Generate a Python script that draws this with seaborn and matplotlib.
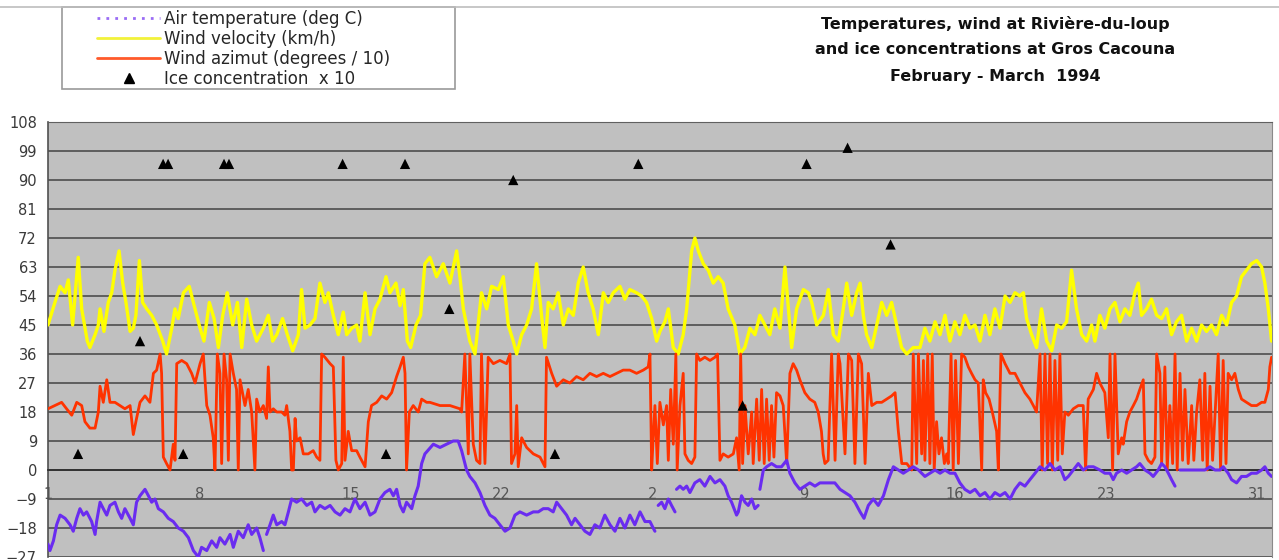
import numpy as np
import pandas as pd
import matplotlib
matplotlib.use("Agg")
import matplotlib.pyplot as plt
from matplotlib.lines import Line2D
from matplotlib.patches import Rectangle
from matplotlib.ticker import MultipleLocator, FixedLocator, FixedFormatter
import seaborn as sns

# Time axis: days elapsed since 1 February 1994 (observation index).
# Wind velocity (km/h)
wind_velocity = [
    (0.00, 45), (0.32, 52), (0.56, 57), (0.79, 55), (0.94, 59), (1.14, 45), (1.40, 66), (1.56, 50),
    (1.82, 40), (1.94, 38), (2.18, 42), (2.33, 45), (2.41, 50), (2.59, 43), (2.79, 52), (2.95, 55),
    (3.10, 62), (3.29, 68), (3.46, 58), (3.61, 52), (3.80, 43), (3.95, 44), (4.07, 48), (4.23, 65),
    (4.38, 52), (4.57, 50), (4.80, 48), (5.03, 45), (5.31, 40), (5.49, 36), (5.73, 44), (5.88, 50),
    (6.03, 47), (6.27, 55), (6.54, 57), (6.73, 52), (7.04, 44), (7.22, 40), (7.47, 52), (7.69, 47),
    (7.89, 38), (8.09, 48), (8.30, 55), (8.55, 45), (8.77, 52), (8.97, 38), (9.20, 53), (9.43, 45),
    (9.66, 40), (9.97, 44), (10.20, 48), (10.40, 40), (10.59, 42), (10.86, 47), (11.08, 42), (11.33, 37),
    (11.59, 42), (11.74, 56), (11.90, 44), (12.13, 45), (12.36, 47), (12.59, 58), (12.82, 52), (12.98, 55),
    (13.21, 48), (13.44, 42), (13.67, 49), (13.83, 42), (14.06, 44), (14.29, 45), (14.44, 40), (14.68, 55),
    (14.91, 42), (15.14, 50), (15.37, 53), (15.65, 60), (15.83, 55), (16.11, 58), (16.30, 51), (16.45, 56),
    (16.64, 40), (16.79, 38), (17.04, 45), (17.25, 48), (17.45, 64), (17.68, 66), (17.99, 60), (18.30, 64),
    (18.61, 58), (18.92, 68), (19.07, 60), (19.23, 50), (19.53, 40), (19.77, 36), (20.07, 55), (20.31, 50),
    (20.54, 57), (20.85, 56), (21.08, 60), (21.31, 45), (21.54, 40), (21.70, 36), (21.93, 42), (22.16, 45),
    (22.39, 50), (22.62, 64), (22.85, 48), (23.01, 38), (23.16, 52), (23.39, 50), (23.62, 55), (23.86, 45),
    (24.09, 50), (24.32, 48), (24.55, 58), (24.78, 63), (25.01, 55), (25.24, 50), (25.48, 42), (25.71, 55),
    (25.94, 52), (26.17, 55), (26.48, 57), (26.71, 53), (26.94, 56), (27.25, 55), (27.48, 54), (27.71, 52),
    (27.95, 47), (28.18, 40), (28.33, 43), (28.56, 46), (28.72, 50), (28.95, 38), (29.18, 36), (29.41, 42),
    (29.57, 50), (29.80, 68), (29.95, 72), (30.11, 68), (30.34, 64), (30.57, 62), (30.80, 58), (31.03, 60),
    (31.26, 58), (31.49, 50), (31.80, 45), (32.03, 36), (32.26, 38), (32.50, 44), (32.73, 42), (32.96, 48),
    (33.19, 45), (33.42, 42), (33.65, 50), (33.89, 44), (34.12, 63), (34.43, 38), (34.66, 50), (34.97, 56),
    (35.20, 55), (35.36, 52), (35.59, 45), (35.90, 48), (36.13, 56), (36.36, 42), (36.59, 40), (36.82, 50),
    (36.98, 58), (37.21, 48), (37.44, 55), (37.60, 58), (37.75, 48), (37.90, 42), (38.14, 38), (38.37, 45),
    (38.60, 52), (38.83, 48), (39.06, 52), (39.29, 45), (39.52, 38), (39.76, 36), (40.06, 38), (40.37, 38),
    (40.60, 44), (40.83, 40), (41.07, 46), (41.30, 42), (41.53, 48), (41.76, 40), (41.99, 46), (42.22, 42),
    (42.45, 48), (42.69, 44), (42.92, 45), (43.15, 40), (43.38, 48), (43.61, 42), (43.84, 50), (44.08, 44),
    (44.31, 54), (44.54, 52), (44.77, 55), (45.00, 54), (45.16, 55), (45.31, 47), (45.54, 42), (45.77, 38),
    (46.00, 50), (46.24, 40), (46.47, 37), (46.70, 45), (46.93, 44), (47.16, 46), (47.39, 62), (47.62, 50),
    (47.86, 42), (48.09, 40), (48.32, 45), (48.47, 40), (48.70, 48), (48.93, 44), (49.17, 50), (49.40, 52),
    (49.63, 46), (49.86, 50), (50.09, 48), (50.32, 55), (50.48, 58), (50.63, 48), (50.86, 50), (51.09, 53),
    (51.33, 48), (51.56, 47), (51.79, 50), (52.02, 42), (52.25, 46), (52.48, 48), (52.72, 40), (52.95, 44),
    (53.18, 40), (53.41, 45), (53.64, 43), (53.87, 45), (54.10, 42), (54.34, 48), (54.57, 45), (54.80, 52),
    (55.03, 54), (55.26, 60), (55.49, 62), (55.72, 64), (55.96, 65), (56.19, 63), (56.34, 58), (56.50, 50),
    (56.65, 40),
]

# Wind azimuth (degrees / 10)
wind_azimuth = [
    (0.00, 19), (0.32, 20), (0.63, 21), (0.86, 19), (1.10, 17), (1.33, 21), (1.56, 20), (1.71, 15),
    (1.94, 13), (2.18, 13), (2.33, 18), (2.41, 26), (2.56, 21), (2.72, 28), (2.87, 21), (3.10, 21),
    (3.33, 20), (3.56, 19), (3.80, 20), (3.95, 11), (4.10, 16), (4.26, 21), (4.49, 23), (4.72, 21),
    (4.88, 30), (5.03, 31), (5.19, 36), (5.26, 30), (5.34, 4), (5.49, 2), (5.65, 0), (5.80, 8),
    (5.88, 3), (5.96, 33), (6.19, 34), (6.42, 33), (6.65, 30), (6.81, 27), (7.04, 33), (7.19, 36),
    (7.35, 20), (7.50, 17), (7.65, 10), (7.73, 0), (7.84, 36), (7.96, 30), (8.04, 2), (8.15, 36),
    (8.27, 28), (8.35, 3), (8.43, 36), (8.58, 30), (8.73, 25), (8.81, 0), (8.89, 28), (9.12, 20),
    (9.27, 25), (9.43, 18), (9.58, 0), (9.66, 22), (9.81, 18), (9.97, 20), (10.12, 16), (10.20, 32),
    (10.28, 18), (10.43, 19), (10.59, 18), (10.82, 18), (10.97, 17), (11.05, 20), (11.20, 12), (11.28, 0),
    (11.36, 0), (11.44, 16), (11.51, 9), (11.67, 10), (11.82, 5), (12.05, 5), (12.28, 6), (12.44, 4),
    (12.59, 3), (12.67, 36), (12.82, 35), (13.06, 33), (13.21, 32), (13.33, 3), (13.44, 0), (13.60, 2),
    (13.67, 35), (13.75, 3), (13.90, 12), (14.06, 6), (14.29, 6), (14.44, 4), (14.68, 1), (14.83, 15),
    (14.98, 20), (15.22, 21), (15.45, 23), (15.68, 22), (15.91, 24), (16.14, 29), (16.30, 32), (16.45, 35),
    (16.53, 30), (16.60, 0), (16.73, 18), (16.91, 20), (17.14, 18), (17.30, 22), (17.53, 21), (17.68, 21),
    (18.15, 20), (18.61, 20), (19.07, 19), (19.15, 18), (19.30, 36), (19.46, 5), (19.53, 36), (19.69, 8),
    (19.84, 3), (20.00, 2), (20.07, 36), (20.23, 2), (20.38, 35), (20.62, 33), (20.92, 34), (21.23, 33),
    (21.39, 36), (21.46, 2), (21.62, 5), (21.70, 20), (21.77, 1), (21.93, 10), (22.16, 7), (22.47, 5),
    (22.78, 4), (23.01, 1), (23.08, 35), (23.32, 30), (23.55, 26), (23.86, 28), (24.16, 27), (24.47, 29),
    (24.78, 28), (25.09, 30), (25.40, 29), (25.71, 30), (26.02, 29), (26.33, 30), (26.63, 31), (26.94, 31),
    (27.25, 30), (27.56, 31), (27.79, 32), (27.87, 36), (27.95, 0), (28.02, 10), (28.10, 20), (28.21, 2),
    (28.33, 21), (28.49, 14), (28.64, 20), (28.72, 3), (28.83, 25), (28.95, 8), (29.07, 36), (29.13, 0),
    (29.26, 20), (29.41, 30), (29.49, 5), (29.64, 3), (29.80, 2), (29.95, 4), (30.03, 36), (30.18, 34),
    (30.41, 35), (30.65, 34), (30.88, 35), (31.00, 36), (31.11, 3), (31.26, 5), (31.49, 4), (31.73, 5),
    (31.88, 10), (32.00, 0), (32.07, 36), (32.16, 2), (32.27, 20), (32.42, 5), (32.58, 18), (32.65, 2),
    (32.81, 22), (32.93, 3), (33.04, 25), (33.16, 2), (33.27, 22), (33.39, 3), (33.50, 20), (33.61, 4),
    (33.73, 24), (33.89, 23), (34.04, 20), (34.20, 2), (34.35, 30), (34.50, 33), (34.66, 31), (34.81, 28),
    (35.04, 24), (35.27, 22), (35.50, 21), (35.66, 18), (35.81, 12), (35.89, 5), (35.97, 2), (36.12, 3),
    (36.28, 36), (36.44, 3), (36.59, 36), (36.67, 33), (36.90, 5), (37.06, 36), (37.21, 34), (37.36, 2),
    (37.52, 36), (37.67, 33), (37.83, 2), (37.98, 30), (38.14, 20), (38.37, 21), (38.60, 21), (38.83, 22),
    (39.06, 23), (39.22, 24), (39.37, 12), (39.53, 2), (39.76, 2), (39.99, 0), (40.06, 36), (40.22, 2),
    (40.30, 36), (40.45, 5), (40.53, 34), (40.60, 3), (40.73, 36), (40.83, 2), (40.94, 36), (41.03, 0),
    (41.14, 15), (41.25, 5), (41.37, 10), (41.50, 2), (41.61, 5), (41.68, 2), (41.81, 36), (41.91, 0),
    (42.02, 34), (42.15, 2), (42.30, 36), (42.45, 35), (42.61, 32), (42.76, 30), (42.92, 28), (43.07, 27),
    (43.23, 0), (43.30, 28), (43.41, 24), (43.57, 22), (43.72, 18), (43.92, 12), (44.00, 0), (44.12, 36),
    (44.31, 33), (44.54, 30), (44.77, 30), (45.00, 27), (45.23, 24), (45.46, 22), (45.62, 20), (45.77, 18),
    (45.93, 36), (46.03, 0), (46.16, 36), (46.28, 2), (46.39, 36), (46.50, 0), (46.62, 34), (46.75, 3),
    (46.85, 36), (46.96, 5), (47.08, 18), (47.24, 17), (47.47, 19), (47.70, 20), (47.93, 20), (48.04, 0),
    (48.16, 22), (48.40, 25), (48.55, 30), (48.70, 27), (48.93, 24), (49.09, 10), (49.17, 36), (49.29, 0),
    (49.40, 36), (49.55, 5), (49.71, 10), (49.78, 8), (49.94, 15), (50.09, 18), (50.25, 20), (50.40, 22),
    (50.55, 25), (50.71, 28), (50.79, 5), (50.94, 3), (51.09, 2), (51.25, 4), (51.33, 36), (51.48, 30),
    (51.56, 2), (51.71, 32), (51.82, 0), (51.94, 20), (52.07, 2), (52.18, 36), (52.28, 0), (52.41, 30),
    (52.53, 3), (52.64, 25), (52.79, 2), (52.95, 20), (53.05, 3), (53.18, 18), (53.33, 28), (53.46, 3),
    (53.56, 30), (53.67, 0), (53.80, 26), (53.92, 3), (54.07, 22), (54.18, 36), (54.29, 0), (54.41, 34),
    (54.54, 2), (54.64, 30), (54.80, 28), (54.95, 30), (55.11, 25), (55.26, 22), (55.49, 21), (55.72, 20),
    (55.96, 20), (56.19, 21), (56.34, 21), (56.50, 25), (56.57, 32), (56.65, 35),
]

# Air temperature (deg C); None marks missing readings
air_temperature = [
    (0.00, -23), (0.09, -25), (0.25, -22), (0.40, -17), (0.56, -14), (0.79, -15), (1.02, -17), (1.17, -19),
    (1.33, -15), (1.48, -12), (1.64, -14), (1.79, -13), (2.02, -16), (2.18, -20), (2.25, -16), (2.41, -10),
    (2.56, -12), (2.72, -14), (2.87, -11), (3.10, -10), (3.26, -13), (3.41, -15), (3.56, -12), (3.80, -15),
    (3.95, -17), (4.10, -10), (4.26, -8), (4.49, -6), (4.65, -8), (4.80, -10), (4.95, -9), (5.11, -12),
    (5.34, -13), (5.57, -15), (5.80, -16), (6.03, -18), (6.27, -19), (6.50, -21), (6.73, -25), (6.96, -27),
    (7.11, -24), (7.35, -25), (7.58, -22), (7.81, -24), (7.96, -21), (8.19, -23), (8.43, -20), (8.58, -24),
    (8.81, -19), (9.04, -21), (9.27, -17), (9.43, -20), (9.66, -18), (9.81, -21), (9.97, -25), (10.05, None),
    (10.12, -20), (10.28, -17), (10.43, -14), (10.59, -17), (10.82, -16), (10.97, -17), (11.13, -13),
    (11.28, -9), (11.51, -10), (11.74, -9), (11.98, -11), (12.21, -10), (12.36, -13), (12.59, -11),
    (12.82, -12), (13.06, -11), (13.29, -13), (13.52, -14), (13.75, -12), (13.98, -13), (14.21, -9),
    (14.44, -12), (14.68, -10), (14.91, -14), (15.14, -13), (15.37, -9), (15.60, -7), (15.83, -6),
    (15.99, -8), (16.14, -6), (16.30, -11), (16.45, -13), (16.60, -10), (16.84, -12), (16.99, -8),
    (17.14, -5), (17.30, 2), (17.45, 5), (17.84, 8), (18.15, 7), (18.45, 8), (18.76, 9), (18.99, 9),
    (19.15, 6), (19.38, 0), (19.53, -2), (19.77, -4), (20.00, -7), (20.23, -11), (20.46, -14), (20.69, -15),
    (20.92, -17), (21.16, -19), (21.39, -18), (21.62, -14), (21.85, -13), (22.16, -14), (22.47, -13),
    (22.70, -13), (22.93, -12), (23.16, -12), (23.39, -13), (23.55, -10), (23.78, -12), (24.01, -14),
    (24.24, -17), (24.40, -15), (24.63, -17), (24.86, -19), (25.09, -20), (25.32, -17), (25.55, -18),
    (25.78, -14), (26.02, -17), (26.25, -19), (26.48, -15), (26.71, -18), (26.94, -14), (27.17, -17),
    (27.41, -13), (27.64, -16), (27.87, -16), (28.02, -18), (28.10, -19), (28.17, None), (28.25, -11),
    (28.41, -10), (28.56, -12), (28.72, -9), (28.87, -11), (29.03, -13), (29.06, None), (29.10, -6),
    (29.26, -5), (29.41, -6), (29.57, -5), (29.72, -7), (29.95, -4), (30.18, -3), (30.41, -5), (30.65, -2),
    (30.88, -4), (31.11, -3), (31.34, -5), (31.49, -8), (31.65, -10), (31.88, -14), (31.96, -13),
    (32.11, -8), (32.27, -10), (32.42, -11), (32.58, -9), (32.73, -12), (32.88, -11), (32.92, None),
    (32.96, -6), (33.12, 0), (33.27, 1), (33.50, 2), (33.73, 1), (33.96, 1), (34.20, 3), (34.35, -1),
    (34.58, -4), (34.81, -6), (35.04, -5), (35.27, -4), (35.51, -5), (35.74, -4), (35.97, -4), (36.20, -4),
    (36.43, -4), (36.67, -6), (36.90, -7), (37.13, -8), (37.36, -10), (37.60, -13), (37.78, -15),
    (37.98, -11), (38.21, -9), (38.44, -11), (38.68, -8), (38.91, -3), (39.14, 1), (39.37, 0), (39.60, -1),
    (39.83, 0), (40.06, 1), (40.30, 0), (40.60, -2), (40.83, -1), (41.07, 0), (41.30, -1), (41.53, 0),
    (41.76, -1), (41.99, -1), (42.22, -4), (42.45, -6), (42.69, -7), (42.92, -6), (43.15, -8), (43.38, -7),
    (43.61, -9), (43.84, -7), (44.08, -8), (44.31, -7), (44.54, -9), (44.77, -6), (45.00, -4), (45.23, -5),
    (45.46, -3), (45.70, -1), (45.93, 1), (46.16, 0), (46.39, 2), (46.62, 0), (46.85, 1), (47.08, -3),
    (47.24, -2), (47.47, 0), (47.70, 2), (47.93, 0), (48.16, 1), (48.40, 1), (48.70, 0), (48.93, -1),
    (49.17, -1), (49.32, -3), (49.47, -1), (49.71, 0), (49.94, -1), (50.17, 0), (50.40, 1), (50.55, 2),
    (50.79, 0), (51.02, -1), (51.17, -2), (51.40, 0), (51.56, 2), (51.71, 1), (51.87, -1), (52.02, -3),
    (52.18, -5), (52.25, None), (52.41, 0), (52.64, 0), (52.87, 0), (53.10, 0), (53.33, 0), (53.56, 0),
    (53.80, 1), (54.03, 0), (54.26, 0), (54.41, 1), (54.64, -1), (54.80, -3), (55.03, -4), (55.26, -2),
    (55.49, -2), (55.72, -1), (55.96, -1), (56.19, 0), (56.34, 1), (56.50, -1), (56.65, -2),
]

# Ice concentration (tenths) x 10 at Gros Cacouna
ice_concentration = [
    (1.39, 5), (4.26, 40), (5.33, 95), (5.56, 95), (6.26, 5), (8.15, 95), (8.38, 95), (13.64, 95),
    (15.65, 5), (16.53, 95), (18.58, 50), (21.54, 90), (23.47, 5), (27.33, 95), (32.16, 20),
    (35.12, 95), (37.02, 100), (39.01, 70),
]

week_days = [0, 7, 14, 21, 28, 35, 42, 49, 56]
week_labels = ["1", "8", "15", "22", "2", "9", "16", "23", "31"]
value_ticks = list(range(-27, 109, 9))

title_lines = [
    "Temperatures, wind at Rivière-du-loup",
    "and ice concentrations at Gros Cacouna",
    "February - March  1994",
]
legend_labels = [
    "Air temperature (deg C)",
    "Wind velocity (km/h)",
    "Wind azimut (degrees / 10)",
    "Ice concentration  x 10",
]

# ---------------------------------------------------------------- frames
vel = pd.DataFrame(wind_velocity, columns=["day", "value"])
azi = pd.DataFrame(wind_azimuth, columns=["day", "value"])
tmp = pd.DataFrame(air_temperature, columns=["day", "value"]).astype(float)
tmp["segment"] = tmp["value"].isna().cumsum()
tmp = tmp.dropna()
ice = pd.DataFrame(ice_concentration, columns=["day", "value"])

# ---------------------------------------------------------------- figure
sns.set_style("white")
plt.rcParams["font.family"] = ["DejaVu Sans"]

W, H = 1279, 560
fig = plt.figure(figsize=(W / 100, H / 100), dpi=100)
ax = fig.add_axes([48 / W, 3 / H, 1224 / W, 435 / H])
ax.set_facecolor("#c0c0c0")

YELLOW = "#ffff00"
RED = "#ff3300"
BLUE = "#6a2cf0"

sns.lineplot(data=vel, x="day", y="value", color=YELLOW, lw=2.4,
             estimator=None, ax=ax, legend=False, zorder=3)
sns.lineplot(data=azi, x="day", y="value", color=RED, lw=2.0,
             estimator=None, ax=ax, legend=False, zorder=4)
sns.lineplot(data=tmp, x="day", y="value", units="segment", color=BLUE, lw=2.2,
             estimator=None, ax=ax, legend=False, zorder=5)
sns.scatterplot(data=ice, x="day", y="value", marker="^", color="black", s=55,
                edgecolor="none", ax=ax, legend=False, zorder=6)

ax.set_xlim(0, 56.67)
ax.set_ylim(-27, 108)
ax.set_xlabel("")
ax.set_ylabel("")

# horizontal grid every 9 units
ax.yaxis.set_major_locator(FixedLocator(value_ticks))
ax.yaxis.grid(True, color="#565656", lw=1.3)
ax.xaxis.grid(False)
ax.set_axisbelow(True)
ax.tick_params(axis="y", direction="out", length=5, width=1, color="#505050",
               labelsize=10.5, labelcolor="#3a3a3a", pad=3)

# category axis crosses at zero
ax.spines["bottom"].set_position(("data", 0))
ax.spines["bottom"].set_color("#303030")
ax.spines["bottom"].set_linewidth(1.3)
ax.spines["left"].set_color("#505050")
ax.spines["left"].set_linewidth(1.2)
ax.spines["top"].set_color("#606060")
ax.spines["right"].set_color("#8a8a8a")
ax.xaxis.set_major_locator(FixedLocator(week_days))
ax.xaxis.set_major_formatter(FixedFormatter(week_labels))
ax.xaxis.set_minor_locator(MultipleLocator(1))
ax.tick_params(axis="x", which="both", direction="out", length=3, width=1,
               color="#404040", labelsize=10.5, labelcolor="#555555", pad=9)

# ---------------------------------------------------------------- title
for i, line in enumerate(title_lines):
    fig.text(995 / W, 1 - (24 + 26 * i) / H, line, ha="center", va="center",
             fontsize=11.5, fontweight="bold", color="#111111")

# ---------------------------------------------------------------- legend
fig.add_artist(Line2D([0, 1], [1 - 7 / H] * 2, transform=fig.transFigure,
                      color="#bdbdbd", lw=1.2))
fig.add_artist(Rectangle((62 / W, 1 - 89 / H), (455 - 62) / W, (89 - 7) / H,
                         transform=fig.transFigure, fill=False,
                         edgecolor="#9a9a9a", lw=1.2))
handles = [
    Line2D([], [], color="#9a6cf5", lw=2, ls=(0, (1, 2.2))),
    Line2D([], [], color="#f2f23a", lw=2),
    Line2D([], [], color="#ff5a2a", lw=2),
    Line2D([], [], color="black", ls="none", marker="^", markersize=7),
]
fig.legend(handles, legend_labels, loc="upper left",
           bbox_to_anchor=(97 / W, 1 - 10 / H), frameon=False, fontsize=12,
           handlelength=3.8, handletextpad=0.2, labelspacing=0.12,
           borderpad=0, borderaxespad=0)

fig.savefig("out.png", dpi=100, facecolor="white")
